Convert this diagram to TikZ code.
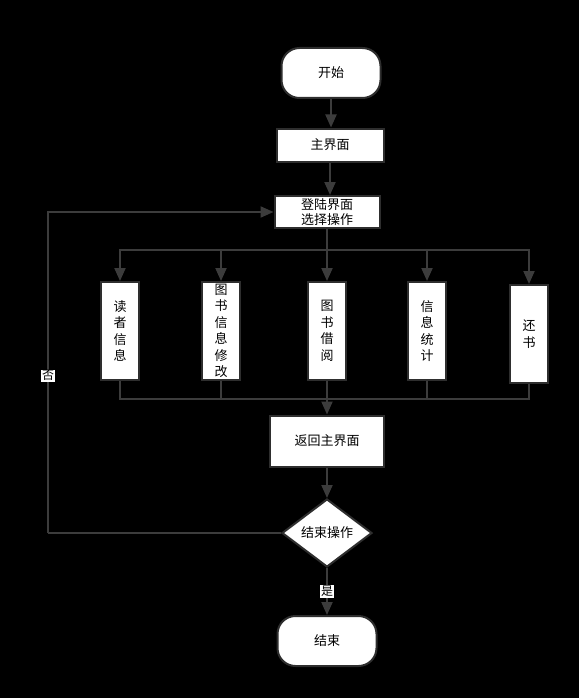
\documentclass[tikz,border=0pt]{standalone}
\usepackage{fontspec}
\setmainfont{Noto Sans CJK SC}
\usepackage{tikz}
\usetikzlibrary{positioning,arrows.meta,shapes.geometric,calc}
\definecolor{flowline}{HTML}{3C3C3C}
\definecolor{flowedge}{HTML}{2E2E2E}

\begin{document}
\begin{tikzpicture}[
  x=1pt, y=-1pt,
  font=\fontsize{13}{16.5}\selectfont,
  term/.style={draw=flowedge, line width=2pt, rounded corners=18pt, fill=white, align=center, minimum width=99pt, minimum height=50pt},
  proc/.style={draw=flowedge, line width=2pt, fill=white, align=center, inner sep=2pt},
  vproc/.style={draw=flowedge, line width=2pt, fill=white, align=center, inner sep=1pt, minimum width=38pt, minimum height=98pt},
  dec/.style={diamond, draw=flowedge, line width=2pt, fill=white, align=center, inner sep=1pt, minimum width=90pt, minimum height=68pt},
  line/.style={draw=flowline, line width=2pt},
  arr/.style={line, -{Triangle[length=13pt, width=11pt]}},
  lab/.style={fill=white, text=black, inner sep=1pt, font=\fontsize{12}{13}\selectfont},
]
  \fill[black] (0,0) rectangle (579,698);
  \useasboundingbox (0,0) rectangle (579,698);

  \node[term] (start) at (331,73) {开始};
  \node[proc, minimum width=107pt, minimum height=33pt] (main) at (330,145) {主界面};
  \node[proc, minimum width=105pt, minimum height=32pt, font=\fontsize{13}{15}\selectfont] (login) at (327,212) {登陆界面\\选择操作};

  \node[vproc] (reader) at (120,331) {读\\者\\信\\息};
  \node[vproc] (modify) at (221,331) {图\\书\\信\\息\\修\\改};
  \node[vproc] (borrow) at (327,331) {图\\书\\借\\阅};
  \node[vproc] (stats) at (427,331) {信\\息\\统\\计};
  \node[vproc] (giveback) at (529,334) {还\\书};

  \node[proc, minimum width=114pt, minimum height=51pt] (back) at (327,441) {返回主界面};
  \node[dec] (quit) at (327,533) {结束操作};
  \node[term] (stop) at (327,641) {结束};

  \coordinate (split) at (327,250);
  \coordinate (join) at (327,399);
  \coordinate (loop) at (48,533);

  \draw[arr] (start) -- (start |- main.north);
  \draw[arr] (main) -- (main |- login.north);
  \draw[line] (login) -- (split);
  \draw[arr] (split) -| (reader);
  \draw[arr] (split) -| (modify);
  \draw[arr] (split) -- (borrow);
  \draw[arr] (split) -| (stats);
  \draw[arr] (split) -| (giveback);
  \draw[line] (reader) |- (join);
  \draw[line] (modify) |- (join);
  \draw[line] (stats) |- (join);
  \draw[line] (giveback) |- (join);
  \draw[line] (borrow) -- (join);
  \draw[arr] (join) -- (back);
  \draw[arr] (back) -- (quit);
  \draw[arr] (quit) -- node[lab]{是} (stop);
  \draw[line] (quit.west) -- (loop);
  \draw[arr] (loop) |- node[lab, pos=0.245]{否} (login.west);
\end{tikzpicture}
\end{document}
